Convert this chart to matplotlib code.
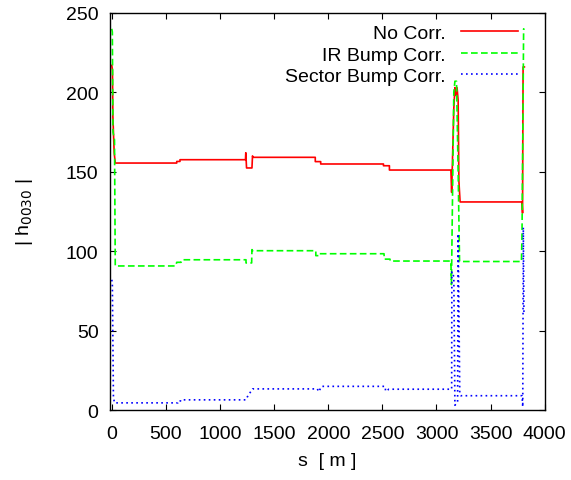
import numpy as np
import matplotlib
matplotlib.use('Agg')
import matplotlib.pyplot as plt

# s [m] and |h0030|
s_nocorr = [0, 6, 10, 22, 32, 600, 600, 630, 630, 1235, 1238, 1245, 1295, 1300, 1305,
            1880, 1880, 1930, 1930, 2510, 2510, 2565, 2565, 3133, 3140, 3160, 3170,
            3180, 3190, 3200, 3207, 3218, 3790, 3795, 3800, 3812]
h_nocorr = [217, 214, 185, 162, 155.5, 155.5, 156.5, 156.5, 157.6, 157.6, 162, 152.4, 152.4,
            160, 159.1, 159.1, 156.4, 156.4, 154.9, 154.9, 153.8, 153.8, 151.1, 151.1, 137,
            190, 203, 198, 203, 195, 144, 131, 131, 124, 216, 216]

s_ir = [0, 5, 11, 25, 32, 590, 600, 640, 650, 1240, 1240, 1292, 1295, 1300,
        1885, 1885, 1920, 1920, 2515, 2518, 2570, 2573, 3133, 3138, 3160, 3170,
        3185, 3200, 3213, 3785, 3790, 3805, 3812]
h_ir = [240, 238, 175, 170, 90.7, 90.7, 93, 93, 94.6, 94.6, 92.6, 92.6, 101, 100.3,
        100.3, 97.2, 97.2, 98.4, 98.4, 95, 95, 93.8, 93.8, 79, 200, 207,
        207, 150, 93.5, 93.5, 110, 240, 240]

s_sector = [0, 5, 15, 25, 610, 612, 635, 638, 1240, 1250, 1300, 1900, 1910, 1940,
            2525, 2530, 2560, 3140, 3142, 3160, 3170, 3195, 3200, 3215, 3225,
            3790, 3797, 3802, 3808]
h_sector = [82, 80, 8, 4.5, 4.5, 5.7, 5.7, 6.4, 6.4, 8, 13.3, 13.3, 11.5, 14.9,
            14.9, 11.8, 13.1, 13.1, 87, 84, 3, 5, 111, 10, 9,
            9, 2, 115, 60]

xticks = [0, 500, 1000, 1500, 2000, 2500, 3000, 3500, 4000]
yticks = [0, 50, 100, 150, 200, 250]

plt.rcParams['font.family'] = ['Liberation Sans', 'DejaVu Sans']
plt.rcParams['font.size'] = 14

fig = plt.figure(figsize=(5.71, 4.81), dpi=100)
ax = fig.add_axes([0.192, 0.1455, 0.762, 0.8255])

ax.plot(s_nocorr, h_nocorr, color='#ff0000', lw=1.2, ls='-', label='No Corr.')
ax.plot(s_ir, h_ir, color='#00ff00', lw=1.2, ls=(0, (4, 2)), label='IR Bump Corr.')
ax.plot(s_sector, h_sector, color='#0000ff', lw=1.2, ls=(0, (1, 2)), label='Sector Bump Corr.')

ax.set_xlim(-20, 4000)
ax.set_ylim(0, 250)
ax.set_xticks(xticks)
ax.set_yticks(yticks)
ax.tick_params(direction='in', length=4.5, width=0.8, top=True, right=True)
ax.tick_params(axis='x', pad=11)
ax.tick_params(axis='y', pad=8)
for sp in ax.spines.values():
    sp.set_linewidth(1.0)

ax.set_xlabel('s  [ m ]', labelpad=7)
ax.set_ylabel(r'| h$_{0030}$ |', labelpad=22)

leg = ax.legend(loc='upper right', frameon=False, markerfirst=False,
                handlelength=2.9, handletextpad=0.8, labelspacing=0.2,
                borderaxespad=0.2, bbox_to_anchor=(0.965, 1.0))

fig.savefig('out.png', dpi=100)
